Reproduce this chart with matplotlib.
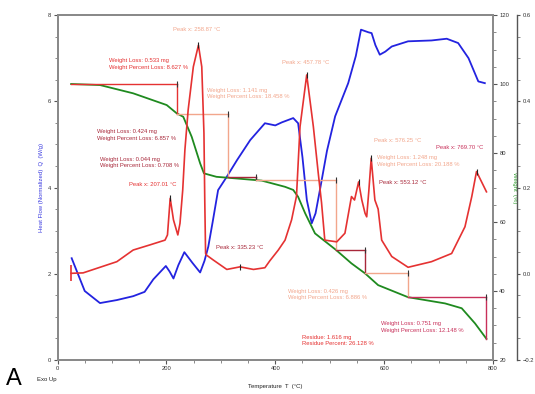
import matplotlib
matplotlib.use("Agg")
import matplotlib.pyplot as plt
from matplotlib.ticker import MultipleLocator

plt.rcParams['font.family'] = ['Liberation Sans', 'DejaVu Sans']

# heat flow (W/g), left axis
hf_T = [26, 50, 78, 109, 139, 160, 176, 199, 206, 213, 222, 233, 248, 262, 270, 277, 285, 295,
        311, 330, 354, 381, 400, 412, 433, 442, 450, 458, 467, 474, 482, 495, 510, 534, 548,
        557.5, 571, 577, 584, 592, 602, 614, 644, 687, 715, 736, 755, 773, 785]
hf_Q = [2.36, 1.60, 1.32, 1.39, 1.48, 1.58, 1.87, 2.18, 2.05, 1.89, 2.20, 2.50, 2.25, 2.03, 2.30,
        2.63, 3.20, 3.94, 4.25, 4.64, 5.10, 5.49, 5.44, 5.51, 5.61, 5.49, 4.70, 3.71, 3.17, 3.40,
        3.94, 4.85, 5.65, 6.42, 7.05, 7.66, 7.60, 7.58, 7.30, 7.08, 7.15, 7.27, 7.39, 7.41, 7.45,
        7.35, 7.00, 6.46, 6.42]

# weight (%), first right axis
wt_T = [25, 78, 139, 200.6, 219, 231, 246.5, 262, 269, 292, 323, 375, 418, 433, 442, 455, 473,
        511.6, 540, 565, 589, 644, 712, 742.5, 767, 788]
wt_P = [100.0, 99.7, 97.3, 93.9, 91.5, 90.5, 84.7, 77.0, 74.1, 73.1, 72.7, 72.0, 70.2, 69.3,
        67.3, 62.5, 56.7, 51.9, 48.0, 45.1, 41.7, 38.2, 36.4, 35.0, 30.6, 26.128]

# derivative weight, second right axis
dw_T = [25, 47, 78, 109, 139, 170, 197.5, 202, 207.01, 213, 221, 225, 230, 234, 240, 249.5,
        258.87, 265, 269, 270.5, 272, 274, 286, 311, 335.23, 360, 381, 390, 405.6, 418, 430,
        439, 445.5, 457.78, 470, 479, 485, 491, 513, 528, 540, 545.6, 553.12, 559, 565, 568,
        572, 576.25, 583, 589, 595.5, 614, 644, 687, 724, 748.5, 761, 769.70, 788]
dw_D = [0.001, 0.002, 0.015, 0.028, 0.055, 0.067, 0.078, 0.09, 0.175, 0.125, 0.09, 0.117, 0.194,
        0.287, 0.38, 0.48, 0.53, 0.48, 0.326, 0.171, 0.047, 0.043, 0.032, 0.010, 0.016, 0.010,
        0.014, 0.03, 0.055, 0.078, 0.125, 0.18, 0.341, 0.461, 0.341, 0.233, 0.165, 0.078, 0.074,
        0.094, 0.179, 0.171, 0.213, 0.171, 0.14, 0.132, 0.194, 0.268, 0.171, 0.150, 0.078, 0.040,
        0.015, 0.028, 0.047, 0.109, 0.179, 0.237, 0.19]

# weight loss steps: start temperatures and weight levels
step_T = [25, 219.5, 313, 365, 512, 565, 644, 788]
step_W = [100.0, 91.373, 72.915, 72.207, 52.019, 45.162, 38.276, 26.128]
step_mg = [0.533, 1.141, 0.044, 1.248, 0.424, 0.426, 0.751]
peaks = [207.01, 258.87, 335.23, 457.78, 553.12, 576.25, 769.70]

RED = "#e53232"
SALMON = "#f2a68c"
DARK = "#a8283a"
CRIMSON = "#c8305a"
step_colors = [RED, SALMON, DARK, SALMON, DARK, SALMON, CRIMSON]

fig = plt.figure(figsize=(5.35, 3.94), dpi=100)
ax = fig.add_axes([0.1075, 0.0863, 0.814, 0.8756])
ax2 = ax.twinx()
ax3 = ax.twinx()
ax3.spines['right'].set_position(('axes', 1.056))

ax.plot(hf_T, hf_Q, color="#2323e0", lw=1.3)
ax2.plot(wt_T, wt_P, color="#1f8a1f", lw=1.3)

for i in range(len(step_mg)):
    c = step_colors[i]
    ax2.plot([step_T[i], step_T[i + 1]], [step_W[i], step_W[i]], color=c, lw=1.0)
    ax2.plot([step_T[i + 1], step_T[i + 1]], [step_W[i], step_W[i + 1]], color=c, lw=1.0)
    ax2.plot([step_T[i + 1]], [step_W[i]], marker='|', color='#333333', ms=5, mew=0.8)

ax3.plot(dw_T, dw_D, color=RED, lw=1.2)
ax3.plot([dw_T[0]], [dw_D[0]], marker='|', color=RED, ms=12, mew=1.2)
for p in peaks:
    ax3.plot([p], [dw_D[dw_T.index(p)]], marker='|', color='#222222', ms=4, mew=0.8)

ax.set_xlim(0, 800)
ax.set_ylim(0, 8)
ax2.set_ylim(20, 120)
ax3.set_ylim(-0.2, 0.6)

ax.xaxis.set_major_locator(MultipleLocator(200))
ax.xaxis.set_minor_locator(MultipleLocator(50))
ax.yaxis.set_major_locator(MultipleLocator(2))
ax.yaxis.set_minor_locator(MultipleLocator(0.5))
ax2.yaxis.set_major_locator(MultipleLocator(20))
ax2.yaxis.set_minor_locator(MultipleLocator(5))
ax3.yaxis.set_major_locator(MultipleLocator(0.2))
ax3.yaxis.set_minor_locator(MultipleLocator(0.05))

for a in (ax, ax2, ax3):
    for s in a.spines.values():
        s.set_color("#8a8a8a")
        s.set_linewidth(1.3)
    a.tick_params(which='major', length=3, width=0.8, color="#555555", labelsize=4.2,
                  pad=1.5, labelcolor="#333333")
    a.tick_params(which='minor', length=2, width=0.6, color="#777777")
ax3.spines['right'].set_color("#555555")
ax3.spines['right'].set_linewidth(1.0)
ax3.tick_params(which='major', length=2.5, pad=1)

ax.set_ylabel("Heat Flow (Normalized)  Q  (W/g)", color="#3a3ae0", fontsize=4.3, labelpad=3)
ax2.set_ylabel("Weight  (%)", color="#2a9a2a", fontsize=4.3, rotation=270, labelpad=6)
ax.set_xlabel("Temperature  T  (°C)", fontsize=4.3, labelpad=9, color="#222222")

fs = 4.2
ls = 1.45
ax.text(212, 7.66, "Peak x: 258.87 °C", color=SALMON, fontsize=fs, va='center')
ax.text(94.6, 6.86, "Weight Loss: %.3f mg\nWeight Percent Loss: %.3f %%" % (step_mg[0], step_W[0] - step_W[1]),
        color=RED, fontsize=fs, va='center', linespacing=ls)
ax.text(274.6, 6.18, "Weight Loss: %.3f mg\nWeight Percent Loss: %.3f %%" % (step_mg[1], step_W[1] - step_W[2]),
        color=SALMON, fontsize=fs, va='center', linespacing=ls)
ax.text(72.6, 5.22, "Weight Loss: %.3f mg\nWeight Percent Loss: %.3f %%" % (step_mg[4], step_W[4] - step_W[5]),
        color=DARK, fontsize=fs, va='center', linespacing=ls)
ax.text(78, 4.58, "Weight Loss: %.3f mg\nWeight Percent Loss: %.3f %%" % (step_mg[2], step_W[2] - step_W[3]),
        color=DARK, fontsize=fs, va='center', linespacing=ls)
ax.text(131, 4.08, "Peak x: 207.01 °C", color=RED, fontsize=fs, va='center')
ax.text(291, 2.62, "Peak x: 335.23 °C", color=DARK, fontsize=fs, va='center')
ax.text(412, 6.89, "Peak x: 457.78 °C", color=SALMON, fontsize=fs, va='center')
ax.text(581, 5.08, "Peak x: 576.25 °C", color=SALMON, fontsize=fs, va='center')
ax.text(586, 4.62, "Weight Loss: %.3f mg\nWeight Percent Loss: %.3f %%" % (step_mg[3], step_W[3] - step_W[4]),
        color=SALMON, fontsize=fs, va='center', linespacing=ls)
ax.text(695, 4.92, "Peak x: 769.70 °C", color=CRIMSON, fontsize=fs, va='center')
ax.text(590.6, 4.11, "Peak x: 553.12 °C", color=DARK, fontsize=fs, va='center')
ax.text(423, 1.52, "Weight Loss: %.3f mg\nWeight Percent Loss: %.3f %%" % (step_mg[5], step_W[5] - step_W[6]),
        color=SALMON, fontsize=fs, va='center', linespacing=ls)
ax.text(593.7, 0.77, "Weight Loss: %.3f mg\nWeight Percent Loss: %.3f %%" % (step_mg[6], step_W[6] - step_W[7]),
        color=CRIMSON, fontsize=fs, va='center', linespacing=ls)
ax.text(450, 0.45, "Residue: 1.616 mg\nResidue Percent: %.3f %%" % step_W[-1],
        color=RED, fontsize=fs, va='center', linespacing=ls)

fig.text(37 / 535, 1 - 380 / 394, "Exo Up", fontsize=4.3, va='center', color="#222222")
fig.text(6 / 535, 1 - 379 / 394, "A", fontsize=17, va='center', color="black")

fig.savefig("out.png", dpi=100)
